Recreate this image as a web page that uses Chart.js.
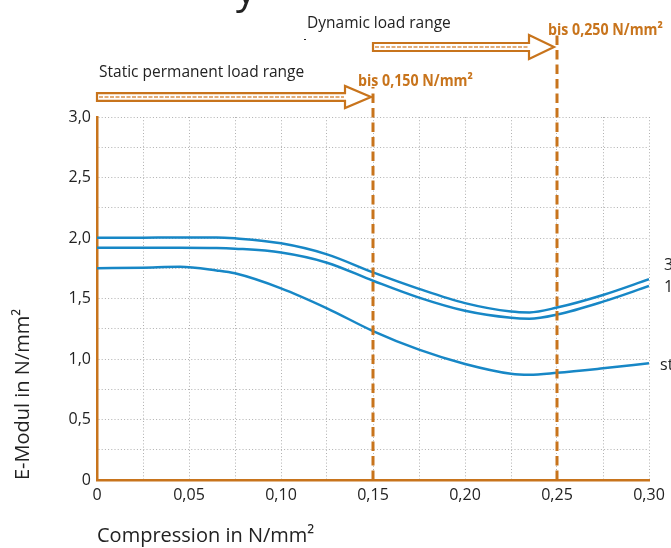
<!DOCTYPE html>
<html><head><meta charset="utf-8">
<script src="https://cdn.jsdelivr.net/npm/chart.js@4.4.1/dist/chart.umd.min.js"></script>
<style>html,body{margin:0;padding:0;background:#fff;overflow:hidden}#wrap{position:relative;width:671px;height:548px}</style>
</head><body><div id="wrap"><canvas id="c"></canvas></div>
<script>
// ---- data ----
const compression = [0, 0.025, 0.045, 0.065, 0.075, 0.10, 0.125, 0.15, 0.175, 0.20, 0.225, 0.235, 0.25, 0.275, 0.30];
const seriesTop    = [2.002, 2.003, 2.005, 2.005, 1.997, 1.956, 1.865, 1.716, 1.580, 1.462, 1.392, 1.385, 1.425, 1.529, 1.659];
const seriesMiddle = [1.920, 1.920, 1.920, 1.918, 1.912, 1.880, 1.796, 1.647, 1.507, 1.398, 1.340, 1.333, 1.367, 1.474, 1.603];
const seriesBottom = [1.750, 1.755, 1.762, 1.732, 1.708, 1.584, 1.419, 1.231, 1.077, 0.959, 0.878, 0.870, 0.886, 0.923, 0.964];
const seriesNames = ['3', '1', 'st'];
const xTickLabels = ['0', '0,05', '0,10', '0,15', '0,20', '0,25', '0,30'];
const yTickLabels = ['0', '0,5', '1,0', '1,5', '2,0', '2,5', '3,0'];
const staticLimit = 0.15;
const dynamicLimit = 0.25;
const staticText = 'Static permanent load range';
const dynamicText = 'Dynamic load range';
const staticLimitText = 'bis 0,150 N/mm²';
const dynamicLimitText = 'bis 0,250 N/mm²';

// ---- style ----
const ORANGE = '#c8741c';
const BLUE = '#1787c6';
const TEXT = '#222222';
const FONT = "'Open Sans', 'Noto Sans', sans-serif";

function pts(ys){ return compression.map((c,i)=>({x:c, y:ys[i]})); }

const annot = {
  id: 'annot',
  afterDatasetsDraw(chart){
    const {ctx, scales:{x, y}, chartArea: ca} = chart;
    ctx.save();
    const xs = x.getPixelForValue(staticLimit);
    const xd = x.getPixelForValue(dynamicLimit);
    // dashed limit lines
    ctx.strokeStyle = ORANGE; ctx.lineWidth = 3; ctx.setLineDash([9.5, 5]);
    ctx.beginPath(); ctx.moveTo(xs, ca.bottom); ctx.lineTo(xs, 87); ctx.stroke();
    ctx.beginPath(); ctx.moveTo(xd, ca.bottom); ctx.lineTo(xd, 32); ctx.stroke();
    ctx.setLineDash([]);
    // arrows
    function arrow(x0, x1, cy, sh, hh, hl){
      ctx.beginPath();
      ctx.moveTo(x0, cy-sh); ctx.lineTo(x1-hl, cy-sh); ctx.lineTo(x1-hl, cy-hh);
      ctx.lineTo(x1, cy); ctx.lineTo(x1-hl, cy+hh); ctx.lineTo(x1-hl, cy+sh);
      ctx.lineTo(x0, cy+sh); ctx.closePath();
      ctx.fillStyle = '#fff'; ctx.fill();
      ctx.setLineDash([]); ctx.lineWidth = 2.2; ctx.strokeStyle = ORANGE; ctx.stroke();
      ctx.beginPath(); ctx.moveTo(x0+2, cy); ctx.lineTo(x1-hl-1, cy);
      ctx.setLineDash([4, 1.5]); ctx.lineWidth = 2; ctx.strokeStyle = '#e3ad78'; ctx.stroke();
      ctx.setLineDash([]);
    }
    arrow(x.getPixelForValue(0), xs - 2, 97, 3.8, 11, 26);
    arrow(xs, xd - 3, 47, 4, 12, 25);
    // texts
    ctx.fillStyle = TEXT; ctx.textBaseline = 'alphabetic'; ctx.textAlign = 'left';
    ctx.font = '15.5px ' + FONT;
    ctx.fillText(dynamicText, 307, 28);
    ctx.fillText(staticText, 99, 77);
    ctx.fillRect(304, 39, 2, 1);
    ctx.fillStyle = ORANGE; ctx.font = 'bold 16.5px ' + FONT;
    function condensed(t, tx, ty){ ctx.save(); ctx.translate(tx, ty); ctx.scale(0.86, 1); ctx.fillText(t, 0, 0); ctx.restore(); }
    condensed(staticLimitText, xs - 15, 86);
    condensed(dynamicLimitText, xd - 9, 35);
    // series end labels
    ctx.fillStyle = TEXT; ctx.font = '16px ' + FONT;
    const lastX = x.getPixelForValue(compression[compression.length-1]);
    ctx.fillText(seriesNames[0], lastX + 15, 270);
    ctx.fillText(seriesNames[1], lastX + 15, 292);
    ctx.fillText(seriesNames[2], lastX + 11, 370);
    // cut-off title descender
    ctx.font = '40px ' + FONT;
    ctx.fillText('y', 236, 3);
    ctx.restore();
  }
};

new Chart(document.getElementById('c'), {
  type: 'line',
  data: {
    datasets: [
      {label: seriesNames[0], data: pts(seriesTop)},
      {label: seriesNames[1], data: pts(seriesMiddle)},
      {label: seriesNames[2], data: pts(seriesBottom)}
    ].map(d => Object.assign(d, {borderColor: BLUE, borderWidth: 2.5, pointRadius: 0, fill: false, cubicInterpolationMode: 'monotone'}))
  },
  options: {
    responsive: true, maintainAspectRatio: false, animation: false,
    layout: {padding: {left: 0, top: 117, right: 22, bottom: 0}},
    plugins: {legend: {display: false}, tooltip: {enabled: false}},
    scales: {
      x: {
        type: 'linear', min: 0, max: 0.3,
        afterFit(s){ s.height = 68; },
        grid: {color: '#b0b0b0', lineWidth: 1, drawTicks: false},
        border: {display: true, color: ORANGE, width: 2.5, dash: [1, 2.2]},
        ticks: {stepSize: 0.025, autoSkip: false, maxRotation: 0, padding: 6, color: TEXT,
          font: {family: FONT, size: 16},
          callback(v, i){ return i % 2 === 0 ? xTickLabels[i/2] : ''; }},
        title: {display: true, text: 'Compression in N/mm²', align: 'start', color: TEXT,
          font: {family: FONT, size: 20}, padding: {top: 2, bottom: 0}}
      },
      y: {
        type: 'linear', min: 0, max: 3,
        afterFit(s){ s.width = 97; },
        grid: {color: '#b0b0b0', lineWidth: 1, drawTicks: false},
        border: {display: true, color: ORANGE, width: 2.5, dash: [1, 2.2]},
        ticks: {stepSize: 0.25, autoSkip: false, padding: 6, color: TEXT,
          font: {family: FONT, size: 16},
          callback(v, i){ return i % 2 === 0 ? yTickLabels[i/2] : ''; }},
        title: {display: true, text: 'E-Modul in N/mm²', align: 'start', color: TEXT,
          font: {family: FONT, size: 20}, padding: {top: 11, bottom: 0}}
      }
    }
  },
  plugins: [annot]
});
</script></body></html>
